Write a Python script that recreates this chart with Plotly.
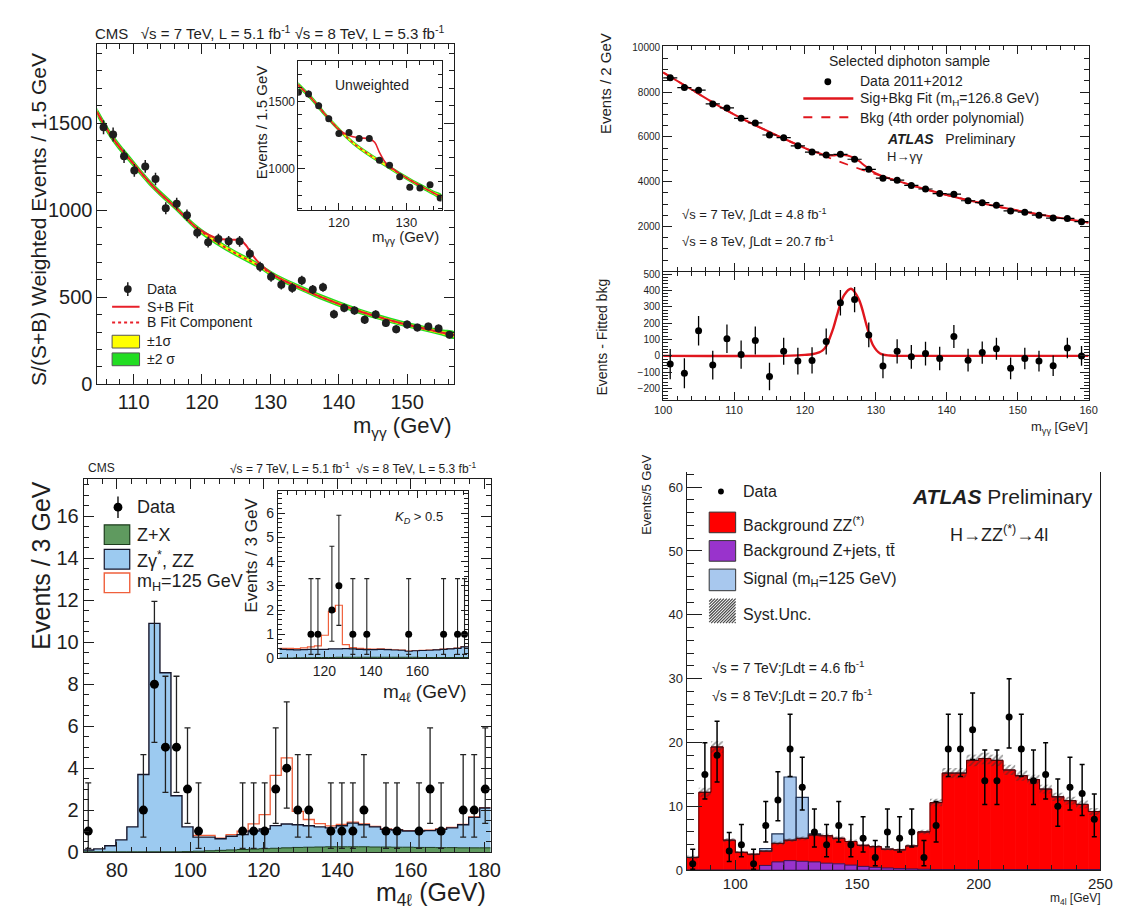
import numpy as np
import plotly.graph_objects as go

W, H = 1125, 913
FONT = "Liberation Sans, Arial, Helvetica, sans-serif"
INK = "#1e1e1e"

# ---------------- top-left: CMS diphoton, S/(S+B) weighted ----------------
tl_mass = [105.6, 107.0, 108.6, 110.1, 111.7, 113.2, 114.7, 116.3, 117.8, 119.3,
           120.9, 122.4, 123.9, 125.5, 127.0, 128.5, 130.1, 131.6, 133.2, 134.6,
           136.2, 137.7, 139.3, 140.8, 142.3, 143.8, 145.4, 146.9, 148.4, 150.0,
           151.5, 153.1, 154.6, 156.2]
tl_events = [1476, 1434, 1309, 1228, 1251, 1179, 1011, 1037, 971, 870,
             816, 834, 821, 821, 750, 675, 617, 572, 553, 596,
             544, 557, 403, 439, 424, 371, 401, 352, 317, 343,
             326, 332, 321, 285]
tl_err = [40, 40, 38, 37, 37, 36, 34, 34, 33, 32,
          31, 31, 31, 31, 30, 29, 28, 27, 27, 27,
          26, 26, 25, 25, 24, 24, 24, 23, 23, 23,
          22, 22, 22, 21]
tl_bkg_x = [104.6, 107, 110, 113, 116, 119, 122, 125, 128, 131, 134, 137, 140, 143, 146, 149, 152, 155, 157]
tl_bkg_y = [1565, 1410, 1265, 1130, 1020, 905, 820, 750, 688, 615, 560, 508, 462, 420, 385, 352, 325, 298, 282]
tl_band1 = [13, 11, 10, 9, 8, 8, 8, 8, 8, 8, 8, 8, 8, 8, 8, 8, 8, 9, 10]
tl_band2 = [26, 22, 20, 18, 17, 17, 17, 16, 16, 16, 16, 16, 16, 16, 16, 16, 16, 18, 20]
tl_sb_x = [104.6, 107, 110, 113, 116, 119, 120, 121, 122, 123, 124, 125, 125.8, 126.5, 127.2,
           128, 129, 131, 134, 137, 140, 143, 146, 149, 152, 155, 157]
tl_sb_y = [1565, 1410, 1265, 1130, 1020, 905, 880, 858, 840, 833, 830, 830, 822, 795, 752,
           712, 672, 615, 560, 508, 462, 420, 385, 352, 325, 298, 282]

# inset (unweighted)
tli_mass = [114.0, 115.5, 117.0, 118.5, 120.0, 121.5, 123.0, 124.5, 126.0, 127.5, 129.0, 130.5, 132.0, 133.5, 135.0]
tli_events = [1568, 1556, 1468, 1370, 1261, 1268, 1224, 1224, 1061, 1024, 939, 861, 854, 878, 780]
tli_err = [26, 26, 25, 24, 23, 23, 22, 22, 21, 21, 20, 19, 19, 19, 18]
tli_bkg_x = [113.8, 116, 118, 120, 122, 124, 126, 128, 130, 132, 134, 135.3]
tli_bkg_y = [1630, 1520, 1400, 1290, 1195, 1120, 1055, 992, 930, 872, 818, 785]
tli_band1 = [11, 10, 9, 9, 8, 8, 8, 8, 8, 8, 9, 10]
tli_band2 = [22, 20, 18, 17, 16, 16, 16, 16, 16, 17, 18, 20]
tli_sb_x = [113.8, 116, 118, 120, 121.5, 123, 124.5, 125.3, 126, 126.8, 127.5, 128.5, 130, 132, 134, 135.3]
tli_sb_y = [1630, 1520, 1400, 1290, 1245, 1228, 1222, 1195, 1120, 1050, 1015, 980, 930, 872, 818, 785]

# ---------------- top-right: ATLAS diphoton ----------------
tr_mass = [101, 103, 105, 107, 109, 111, 113, 115, 117, 119, 121, 123, 125, 127, 129,
           131, 133, 135, 137, 139, 141, 143, 145, 147, 149, 151, 153, 155, 157, 159]
tr_events = [8642, 8204, 8088, 7474, 7299, 6832, 6628, 6088, 5971, 5606, 5328, 5197, 5226, 5007, 4555,
             4161, 4073, 3839, 3679, 3474, 3445, 3153, 3066, 2949, 2701, 2642, 2511, 2380, 2365, 2219]
tr_err = [92, 91, 90, 88, 87, 86, 85, 84, 82, 81, 80, 79, 78, 77, 76,
          75, 74, 73, 72, 71, 70, 69, 68, 67, 66, 65, 64, 63, 62, 61]
tr_resid = [-50, -106, 154, -56, 104, 8, 94, -126, 28, -32, -28, 88, 324, 344, 128,
            -62, 28, -6, 14, -16, 118, -26, 20, 44, -76, -16, -32, -60, 48, 0]
tr_bkg_x = [100, 104, 108, 112, 116, 120, 124, 128, 132, 136, 140, 144, 148, 152, 156, 160]
tr_bkg_y = [8880, 8120, 7360, 6680, 6075, 5500, 5000, 4545, 4135, 3755, 3410, 3110, 2840, 2600, 2380, 2180]
tr_sig_x = [100, 117, 119, 120, 121, 122, 122.5, 123, 124, 124.6, 125.5, 126.5, 127.6, 128.7, 129.6, 130.6, 132, 134, 160]
tr_sig_y = [0, 0, 3, 6, 10, 22, 34, 60, 170, 260, 370, 410, 345, 185, 65, 15, 2, 0, 0]

# ---------------- bottom-left: CMS 4l ----------------
bl_centers = [72.25, 75.25, 78.25, 81.25, 84.25, 87.25, 90.25, 93.25, 96.25, 99.25,
              102.25, 105.25, 108.25, 111.25, 114.25, 117.25, 120.25, 123.25, 126.25, 129.25,
              132.25, 135.25, 138.25, 141.25, 144.25, 147.25, 150.25, 153.25, 156.25, 159.25,
              162.25, 165.25, 168.25, 171.25, 174.25, 177.25, 180.25]
bl_bkg_total = [0.1, 0.15, 0.3, 0.58, 1.2, 3.7, 10.9, 8.55, 2.68, 1.2,
                0.71, 0.71, 0.63, 0.75, 0.83, 1.0, 1.1, 1.26, 1.34, 1.3,
                1.25, 1.2, 1.15, 1.25, 1.38, 1.3, 1.2, 1.08, 1.05, 1.0,
                1.0, 1.02, 1.08, 1.15, 1.3, 1.65, 2.1]
bl_zx = [0.01, 0.01, 0.01, 0.01, 0.01, 0.01, 0.01, 0.01, 0.01, 0.02,
         0.04, 0.06, 0.08, 0.1, 0.12, 0.14, 0.16, 0.18, 0.2, 0.22,
         0.23, 0.24, 0.25, 0.25, 0.25, 0.25, 0.24, 0.24, 0.23, 0.23,
         0.22, 0.22, 0.21, 0.21, 0.2, 0.2, 0.2]
bl_sig = [0, 0, 0, 0, 0, 0, 0, 0, 0, 0,
          0.08, 0.08, 0.03, 0.08, 0.17, 0.34, 0.68, 2.39, 3.15, 0.64,
          0.3, 0.15, 0.1, 0.07, 0.05, 0.04, 0.02, 0.02, 0.02, 0.02,
          0.02, 0.02, 0.02, 0.02, 0.02, 0.02, 0.02]
bl_data_x = [72.25, 87.25, 90.25, 93.25, 96.25, 99.25, 102.25, 114.25, 117.25, 120.25, 123.25, 126.25, 129.25,
             132.25, 138.25, 141.25, 144.25, 147.25, 153.25, 156.25, 162.25, 165.25, 168.25, 174.25, 177.25, 180.25]
bl_data_y = [1, 2, 8, 5, 5, 3, 1, 1, 1, 1, 3, 4, 2, 2, 1, 1, 1, 2, 1, 1, 1, 3, 1, 2, 2, 3]
bl_err_lo = [0.83, 1.29, 2.77, 2.16, 2.16, 1.63, 0.83, 0.83, 0.83, 0.83, 1.63, 1.91, 1.29,
             1.29, 0.83, 0.83, 0.83, 1.29, 0.83, 0.83, 0.83, 1.63, 0.83, 1.29, 1.29, 1.63]
bl_err_hi = [2.30, 2.64, 3.95, 3.38, 3.38, 2.92, 2.30, 2.30, 2.30, 2.30, 2.92, 3.16, 2.64,
             2.64, 2.30, 2.30, 2.30, 2.64, 2.30, 2.30, 2.30, 2.92, 2.30, 2.64, 2.64, 2.92]

# inset (K_D > 0.5), bins from 100.75 GeV
bli_centers = bl_centers[10:]
bli_bkg_total = [0.38, 0.37, 0.36, 0.37, 0.38, 0.38, 0.38, 0.4, 0.4, 0.41, 0.4, 0.38, 0.37, 0.37,
                 0.38, 0.37, 0.35, 0.34, 0.3, 0.32, 0.33, 0.34, 0.36, 0.38, 0.4, 0.42, 0.48]
bli_zx = [0.02, 0.02, 0.03, 0.03, 0.03, 0.04, 0.04, 0.04, 0.05, 0.05, 0.05, 0.05, 0.05, 0.05,
          0.05, 0.05, 0.05, 0.05, 0.05, 0.05, 0.04, 0.04, 0.04, 0.04, 0.04, 0.04, 0.04]
bli_sig = [0.04, 0.05, 0.05, 0.07, 0.1, 0.14, 0.58, 1.55, 1.8, 0.16, 0.05, 0.04, 0.03, 0.02,
           0.02, 0.01, 0.01, 0.01, 0.01, 0.01, 0.01, 0.01, 0.01, 0.01, 0.01, 0.01, 0.01]
bli_data_x = [114.25, 117.25, 123.25, 126.25, 132.25, 138.25, 156.25, 171.25, 177.25, 180.25]
bli_data_y = [1, 1, 2, 3, 1, 1, 1, 1, 1, 1]
bli_err_lo = [0.83, 0.83, 1.29, 1.63, 0.83, 0.83, 0.83, 0.83, 0.83, 0.83]
bli_err_hi = [2.30, 2.30, 2.64, 2.92, 2.30, 2.30, 2.30, 2.30, 2.30, 2.30]

# ---------------- bottom-right: ATLAS 4l ----------------
br_centers = [82.5, 87.5, 92.5, 97.5, 102.5, 107.5, 112.5, 117.5, 122.5, 127.5,
              132.5, 137.5, 142.5, 147.5, 152.5, 157.5, 162.5, 167.5, 172.5, 177.5,
              182.5, 187.5, 192.5, 197.5, 202.5, 207.5, 212.5, 217.5, 222.5, 227.5,
              232.5, 237.5, 242.5, 247.5]
br_bkg_total = [2.0, 12.2, 19.3, 4.7, 2.8, 2.5, 3.0, 4.2, 4.7, 5.0,
                5.5, 5.4, 5.0, 4.5, 3.9, 3.7, 3.3, 3.2, 3.8, 6.0,
                10.6, 15.2, 15.2, 17.2, 17.5, 17.2, 15.7, 14.8, 14.2, 12.7,
                11.5, 10.9, 10.3, 9.2]
br_zjets = [0.02, 0.02, 0.02, 0.02, 0.02, 0.02, 0.75, 1.3, 1.5, 1.4,
            1.3, 1.1, 1.0, 0.8, 0.6, 0.45, 0.35, 0.25, 0.2, 0.15,
            0.1, 0.1, 0.1, 0.1, 0.1, 0.1, 0.1, 0.1, 0.1, 0.1,
            0.1, 0.1, 0.1, 0.1]
br_sig = [0, 0, 0, 0, 0, 0, 0.4, 1.5, 9.9, 6.4,
          0.2, 0, 0, 0, 0, 0, 0, 0, 0, 0,
          0, 0, 0, 0, 0, 0, 0, 0, 0, 0,
          0, 0, 0, 0]
br_unc = [0.3, 0.7, 0.9, 0.3, 0.2, 0.2, 0.2, 0.3, 0.3, 0.3,
          0.3, 0.3, 0.3, 0.3, 0.25, 0.25, 0.2, 0.2, 0.25, 0.35,
          0.6, 0.8, 0.8, 0.9, 0.9, 0.9, 0.8, 0.8, 0.75, 0.7,
          0.65, 0.6, 0.6, 0.55]
br_data = [1, 15, 18, 3, 4, 1, 7, 11, 19, 13, 6, 4, 7, 4, 5, 2, 6, 5, 6, 2,
           7, 19, 19, 22, 14, 14, 24, 19, 14, 15, 10, 13, 12, 8]
br_err_lo = [0.83, 3.83, 4.20, 1.63, 1.91, 0.83, 2.58, 3.27, 4.32, 3.56, 2.38, 1.91, 2.58, 1.91, 2.16, 1.29, 2.38,
             2.16, 2.38, 1.29, 2.58, 4.32, 4.32, 4.66, 3.70, 3.70, 4.87, 4.32, 3.70, 3.83, 3.11, 3.56, 3.42, 2.77]
br_err_hi = [2.30, 4.96, 5.32, 2.92, 3.16, 2.30, 3.77, 4.42, 5.44, 4.70, 3.58, 3.16, 3.77, 3.16, 3.38, 2.64, 3.58,
             3.38, 3.58, 2.64, 3.77, 5.44, 5.44, 5.76, 4.83, 4.83, 5.97, 5.44, 4.83, 4.96, 4.27, 4.70, 4.56, 3.95]

# ---------------- colours ----------------
CMS_RED = "#e8202a"
YELLOW = "#ffff00"
GREEN = "#22dd22"
ATL_RED = "#e0161d"
ZX_GREEN = "#5f9a5f"
ZZ_BLUE = "#9ccaf0"
SIG_OUT = "#f0603c"
BR_RED = "#ff0000"
BR_PURPLE = "#9933cc"
BR_BLUE = "#a8c8ee"


def px(x):
    return x / W


def py(y):
    return 1 - y / H


def edges(centers, width):
    return [c - width / 2 for c in centers] + [centers[-1] + width / 2]


def stepy(vals):
    return list(vals) + [vals[-1]]


fig = go.Figure()
NOHOVER = dict(hoverinfo="skip", showlegend=False)

# ===== top-left main =====
for band, col in ((tl_band2, GREEN), (tl_band1, YELLOW)):
    fig.add_trace(go.Scatter(
        x=tl_bkg_x + tl_bkg_x[::-1],
        y=[b + w for b, w in zip(tl_bkg_y, band)] + [b - w for b, w in zip(tl_bkg_y, band)][::-1],
        fill="toself", fillcolor=col, line=dict(width=0, shape="spline"), mode="lines",
        xaxis="x", yaxis="y", **NOHOVER))
fig.add_trace(go.Scatter(x=tl_bkg_x, y=tl_bkg_y, mode="lines",
                         line=dict(color=CMS_RED, width=2, dash="dot", shape="spline"),
                         xaxis="x", yaxis="y", **NOHOVER))
fig.add_trace(go.Scatter(x=tl_sb_x, y=tl_sb_y, mode="lines",
                         line=dict(color=CMS_RED, width=2, shape="spline"),
                         xaxis="x", yaxis="y", **NOHOVER))
fig.add_trace(go.Scatter(x=tl_mass, y=tl_events, mode="markers",
                         marker=dict(color=INK, size=8),
                         error_y=dict(type="data", array=tl_err, color=INK, thickness=1.5, width=0),
                         xaxis="x", yaxis="y", **NOHOVER))

# ===== top-left inset =====
for band, col in ((tli_band2, GREEN), (tli_band1, YELLOW)):
    fig.add_trace(go.Scatter(
        x=tli_bkg_x + tli_bkg_x[::-1],
        y=[b + w for b, w in zip(tli_bkg_y, band)] + [b - w for b, w in zip(tli_bkg_y, band)][::-1],
        fill="toself", fillcolor=col, line=dict(width=0, shape="spline"), mode="lines",
        xaxis="x2", yaxis="y2", **NOHOVER))
fig.add_trace(go.Scatter(x=tli_bkg_x, y=tli_bkg_y, mode="lines",
                         line=dict(color=CMS_RED, width=1.6, dash="dot", shape="spline"),
                         xaxis="x2", yaxis="y2", **NOHOVER))
fig.add_trace(go.Scatter(x=tli_sb_x, y=tli_sb_y, mode="lines",
                         line=dict(color=CMS_RED, width=1.6, shape="spline"),
                         xaxis="x2", yaxis="y2", **NOHOVER))
fig.add_trace(go.Scatter(x=tli_mass, y=tli_events, mode="markers",
                         marker=dict(color=INK, size=7),
                         error_y=dict(type="data", array=tli_err, color=INK, thickness=1.2, width=0),
                         xaxis="x2", yaxis="y2", **NOHOVER))

# ===== top-right main =====
sb_x = sorted(set(tr_bkg_x + tr_sig_x))
sb_y = list(np.interp(sb_x, tr_bkg_x, tr_bkg_y) + np.interp(sb_x, tr_sig_x, tr_sig_y))
fig.add_trace(go.Scatter(x=tr_bkg_x, y=tr_bkg_y, mode="lines",
                         line=dict(color=ATL_RED, width=1.8, dash="dash", shape="spline"),
                         xaxis="x3", yaxis="y3", **NOHOVER))
fig.add_trace(go.Scatter(x=sb_x, y=sb_y, mode="lines",
                         line=dict(color=ATL_RED, width=2, shape="spline"),
                         xaxis="x3", yaxis="y3", **NOHOVER))
fig.add_trace(go.Scatter(x=tr_mass, y=tr_events, mode="markers",
                         marker=dict(color="black", size=7),
                         error_x=dict(type="constant", value=1, color="black", thickness=1.2, width=0),
                         error_y=dict(type="data", array=tr_err, color="black", thickness=1.2, width=0),
                         xaxis="x3", yaxis="y3", **NOHOVER))

# ===== top-right residual panel =====
fig.add_trace(go.Scatter(x=tr_sig_x, y=tr_sig_y, mode="lines",
                         line=dict(color=ATL_RED, width=2.4, shape="spline"),
                         xaxis="x4", yaxis="y4", **NOHOVER))
fig.add_trace(go.Scatter(x=tr_mass, y=tr_resid, mode="markers",
                         marker=dict(color="black", size=7),
                         error_y=dict(type="data", array=tr_err, color="black", thickness=1.3, width=0),
                         xaxis="x4", yaxis="y4", **NOHOVER))

# ===== bottom-left main =====
bl_e = edges(bl_centers, 3)
bl_sb = [b + s for b, s in zip(bl_bkg_total, bl_sig)]
fig.add_trace(go.Scatter(x=bl_e[10:], y=stepy(bl_sb[10:]), mode="lines",
                         line=dict(color=SIG_OUT, width=1.3, shape="hv"),
                         xaxis="x5", yaxis="y5", **NOHOVER))
fig.add_trace(go.Scatter(x=bl_e, y=stepy(bl_bkg_total), mode="lines", fill="tozeroy",
                         fillcolor=ZZ_BLUE, line=dict(color="#15152a", width=1.4, shape="hv"),
                         xaxis="x5", yaxis="y5", **NOHOVER))
fig.add_trace(go.Scatter(x=bl_e, y=stepy(bl_zx), mode="lines", fill="tozeroy",
                         fillcolor=ZX_GREEN, line=dict(color="#1d3d1d", width=1, shape="hv"),
                         xaxis="x5", yaxis="y5", **NOHOVER))
fig.add_trace(go.Scatter(x=bl_data_x, y=bl_data_y, mode="markers",
                         marker=dict(color="black", size=9),
                         error_y=dict(type="data", symmetric=False, array=bl_err_hi, arrayminus=bl_err_lo,
                                      color="#222", thickness=1.3, width=3),
                         xaxis="x5", yaxis="y5", **NOHOVER))

# ===== bottom-left inset =====
bli_e = edges(bli_centers, 3)
bli_sb = [b + s for b, s in zip(bli_bkg_total, bli_sig)]
fig.add_trace(go.Scatter(x=bli_e, y=stepy(bli_sb), mode="lines",
                         line=dict(color=SIG_OUT, width=1.2, shape="hv"),
                         xaxis="x6", yaxis="y6", **NOHOVER))
fig.add_trace(go.Scatter(x=bli_e, y=stepy(bli_bkg_total), mode="lines", fill="tozeroy",
                         fillcolor=ZZ_BLUE, line=dict(color="#15152a", width=1.2, shape="hv"),
                         xaxis="x6", yaxis="y6", **NOHOVER))
fig.add_trace(go.Scatter(x=bli_e, y=stepy(bli_zx), mode="lines", fill="tozeroy",
                         fillcolor=ZX_GREEN, line=dict(color="#1d3d1d", width=1, shape="hv"),
                         xaxis="x6", yaxis="y6", **NOHOVER))
fig.add_trace(go.Scatter(x=bli_data_x, y=bli_data_y, mode="markers",
                         marker=dict(color="black", size=7),
                         error_y=dict(type="data", symmetric=False, array=bli_err_hi, arrayminus=bli_err_lo,
                                      color="#222", thickness=1.1, width=2.5),
                         xaxis="x6", yaxis="y6", **NOHOVER))

# ===== bottom-right =====
br_zz = [t - z for t, z in zip(br_bkg_total, br_zjets)]
fig.add_trace(go.Bar(x=br_centers, y=br_zz, base=br_zjets, width=5, marker=dict(color=BR_RED,
                     line=dict(color=BR_RED, width=0.8)), xaxis="x7", yaxis="y7", **NOHOVER))
fig.add_trace(go.Bar(x=br_centers, y=br_zjets, base=0, width=5, marker=dict(color=BR_PURPLE,
                     line=dict(color="#3c1450", width=1)), xaxis="x7", yaxis="y7", **NOHOVER))
fig.add_trace(go.Bar(x=br_centers, y=br_sig, base=br_bkg_total, width=5, marker=dict(color=BR_BLUE,
                     line=dict(color="#1f3050", width=1.2)), xaxis="x7", yaxis="y7", **NOHOVER))
br_e = edges(br_centers, 5)
fig.add_trace(go.Scatter(x=br_e, y=stepy(br_bkg_total), mode="lines",
                         line=dict(color="#5a0000", width=1, shape="hv"),
                         xaxis="x7", yaxis="y7", **NOHOVER))
fig.add_trace(go.Bar(x=br_centers, y=[2 * u for u in br_unc],
                     base=[t - u for t, u in zip(br_bkg_total, br_unc)], width=5,
                     marker=dict(color="rgba(0,0,0,0)", line=dict(width=0),
                                 pattern=dict(shape="/", fgcolor="#333333", bgcolor="rgba(0,0,0,0)",
                                              size=4, solidity=0.45, fillmode="overlay")),
                     xaxis="x7", yaxis="y7", **NOHOVER))
fig.add_trace(go.Scatter(x=br_centers, y=br_data, mode="markers",
                         marker=dict(color="black", size=7),
                         error_y=dict(type="data", symmetric=False, array=br_err_hi, arrayminus=br_err_lo,
                                      color="black", thickness=1.5, width=2.5),
                         xaxis="x7", yaxis="y7", **NOHOVER))


# ---------------- axes ----------------
def axis(dom, rng, tickvals, size, tlen, mdtick, mlen, anchor, mirror="allticks", labels=True, m0=0):
    return dict(domain=dom, range=rng, anchor=anchor, showline=True, linecolor=INK, linewidth=1,
                mirror=mirror, ticks="inside", ticklen=tlen, tickwidth=1, tickcolor=INK,
                tickmode="array", tickvals=tickvals, showticklabels=labels, tickformat="d",
                exponentformat="none",
                tickfont=dict(family=FONT, size=size, color=INK), showgrid=False, zeroline=False,
                minor=dict(ticks="inside", ticklen=mlen, tickmode="linear", tick0=m0, dtick=mdtick,
                           tickcolor=INK, tickwidth=1, showgrid=False))


layout_axes = dict(
    xaxis=axis([px(82), px(446)], [104.7, 156.9], [110, 120, 130, 140, 150], 20, 10, 2, 5, "y"),
    yaxis=axis([py(378), py(32)], [0, 1951], [0, 500, 1000, 1500], 20, 10, 100, 5, "x"),
    xaxis2=axis([px(287), px(433)], [114.0, 135.2], [120, 130], 13, 7, 2, 4, "y2"),
    yaxis2=axis([py(201), py(49)], [687, 1800], [1000, 1500], 12, 7, 100, 4, "x2"),
    xaxis3=axis([px(659), px(1093)], [100, 160], [100, 110, 120, 130, 140, 150, 160], 11, 8, 2, 4, "y3", labels=False),
    yaxis3=axis([py(263), py(34)], [0, 10044], [2000, 4000, 6000, 8000, 10000], 10, 9, 500, 5, "x3"),
    xaxis4=axis([px(659), px(1093)], [100, 160], [100, 110, 120, 130, 140, 150, 160], 11, 8, 2, 4, "y4"),
    yaxis4=axis([py(394), py(264)], [-270, 510], [-200, -100, 0, 100, 200, 300, 400, 500], 10, 9, 20, 5, "x4"),
    xaxis5=axis([px(68), px(483)], [71.0, 181.7], [80, 100, 120, 140, 160, 180], 20, 10, 4, 5, "y5"),
    yaxis5=axis([py(854), py(474)], [0, 17.8], [0, 2, 4, 6, 8, 10, 12, 14, 16], 20, 10, 0.5, 5, "x5"),
    xaxis6=axis([px(266), px(460)], [100.0, 181.75], [120, 140, 160], 14, 7, 4, 4, "y6"),
    yaxis6=axis([py(657), py(487)], [0, 6.9], [0, 1, 2, 3, 4, 5, 6], 14, 7, 0.2, 4, "x6"),
    xaxis7=axis([px(683), px(1105)], [80, 250], [100, 150, 200, 250], 15, 10, 10, 5, "y7", mirror=False),
    yaxis7=axis([py(872.5), py(467)], [0, 62.4], [0, 10, 20, 30, 40, 50, 60], 13, 15, 2, 7, "x7", mirror=True),
)

annotations = []
shapes = []


def txt(x, y, s, size, anchor="left", yanchor="middle", angle=0, color=INK):
    annotations.append(dict(x=px(x), y=py(y), xref="paper", yref="paper", text=s, showarrow=False,
                            xanchor=anchor, yanchor=yanchor, textangle=angle,
                            font=dict(family=FONT, size=size, color=color)))


def line(x0, y0, x1, y1, color=INK, width=1, dash="solid"):
    shapes.append(dict(type="line", xref="paper", yref="paper", x0=px(x0), y0=py(y0), x1=px(x1), y1=py(y1),
                       line=dict(color=color, width=width, dash=dash)))


def rect(x0, y0, x1, y1, fill, color=INK, width=1):
    shapes.append(dict(type="rect", xref="paper", yref="paper", x0=px(x0), y0=py(y0), x1=px(x1), y1=py(y1),
                       fillcolor=fill, line=dict(color=color, width=width)))


def dot(cx, cy, r, color="black"):
    shapes.append(dict(type="circle", xref="paper", yref="paper", x0=px(cx - r), y0=py(cy + r),
                       x1=px(cx + r), y1=py(cy - r), fillcolor=color, line=dict(color=color, width=0)))


# ---- top-left texts & legend ----
txt(78, 20, "CMS   √s = 7 TeV, L = 5.1 fb<sup>-1</sup> √s = 8 TeV, L = 5.3 fb<sup>-1</sup>", 15)
txt(22, 210, "S/(S+B) Weighted Events / 1.5 GeV", 21, anchor="center", angle=-90)
txt(446, 421, "m<sub>γγ</sub> (GeV)", 22, anchor="right")
txt(362, 73, "Unweighted", 14, anchor="center")
txt(249, 112, "Events / 1.5 GeV", 15, anchor="center", angle=-90)
txt(432, 229, "m<sub>γγ</sub> (GeV)", 15, anchor="right")
line(113, 274, 113, 288, INK, 1.5)
dot(113, 281, 4, INK)
txt(131, 281, "Data", 14)
line(97, 299, 125, 299, CMS_RED, 2)
txt(131, 299, "S+B Fit", 14)
line(97, 315, 125, 315, CMS_RED, 2, "dot")
txt(131, 315, "B Fit Component", 14)
rect(97, 328, 125, 341, YELLOW, "#555", 1)
txt(131, 334, "±1σ", 14)
rect(97, 346, 125, 359, GREEN, "#555", 1)
txt(131, 352, "±2 σ", 14)

# ---- top-right texts & legend ----
txt(600, 72, "Events / 2 GeV", 15, anchor="center", angle=-90)
txt(597, 330, "Events - Fitted bkg", 14, anchor="center", angle=-90)
txt(1094, 422, "m<sub>γγ</sub> [GeV]", 13, anchor="right")
txt(910, 49, "Selected diphoton sample", 14, anchor="center")
dot(827, 70, 3.5, "black")
txt(858, 69, "Data 2011+2012", 14)
line(802, 87, 853, 87, ATL_RED, 2.5)
txt(858, 88, "Sig+Bkg Fit (m<sub>H</sub>=126.8 GeV)", 14)
line(802, 106, 853, 106, ATL_RED, 2, "dash")
txt(858, 107, "Bkg (4th order polynomial)", 14)
txt(885, 128, "<b><i>ATLAS</i></b>   Preliminary", 14)
txt(885, 146, "H→γγ", 13)
txt(676, 205, "√s = 7 TeV, ∫Ldt = 4.8 fb<sup>-1</sup>", 13)
txt(676, 232, "√s = 8 TeV, ∫Ldt = 20.7 fb<sup>-1</sup>", 13)

# ---- bottom-left texts & legend ----
txt(70, 463, "CMS", 12)
txt(470, 463, "√s = 7 TeV, L = 5.1 fb<sup>-1</sup>  √s = 8 TeV, L = 5.3 fb<sup>-1</sup>", 12, anchor="right")
txt(25, 563, "Events / 3 GeV", 25, anchor="center", angle=-90)
txt(480, 897, "m<sub>4ℓ</sub> (GeV)", 25, anchor="right")
txt(239, 552, "Events / 3 GeV", 17, anchor="center", angle=-90)
txt(460, 692, "m<sub>4ℓ</sub> (GeV)", 19, anchor="right")
txt(410, 513, "<i>K<sub>D</sub></i> > 0.5", 13, anchor="center")
line(103, 492, 103, 514, INK, 1.5)
dot(103, 503, 4.5, "black")
txt(120, 503, "Data", 18)
rect(89, 521, 115, 541, ZX_GREEN, "#1d3d1d", 1.2)
txt(120, 531, "Z+X", 18)
rect(89, 546, 115, 566, ZZ_BLUE, "#15152a", 1.2)
txt(120, 556, "Zγ<sup>*</sup>, ZZ", 18)
rect(89, 570, 115, 590, "white", SIG_OUT, 1.4)
txt(120, 580, "m<sub>H</sub>=125 GeV", 18)

# ---- bottom-right texts & legend ----
txt(642, 490, "Events/5 GeV", 13, anchor="center", angle=-90)
txt(1108, 902, "m<sub>4l</sub> [GeV]", 12, anchor="right")
dot(718, 487, 3, "black")
txt(738, 487, "Data", 16)
rect(706, 508, 733, 529, BR_RED, "#333", 1)
txt(738, 520, "Background ZZ<sup>(*)</sup>", 16)
rect(706, 537, 733, 558, BR_PURPLE, "#333", 1)
txt(738, 547, "Background Z+jets, tt̄", 16)
rect(706, 566, 733, 588, BR_BLUE, "#333", 1)
txt(738, 577, "Signal (m<sub>H</sub>=125 GeV)", 16)
hx0, hy0, hx1, hy1 = 706, 596, 733, 621
hh = hy1 - hy0
s = hx0 - hh
while s < hx1:
    t0 = max(0, hx0 - s)
    t1 = min(hh, hx1 - s)
    if t1 > t0:
        line(s + t0, hy1 - t0, s + t1, hy1 - t1, "#444", 1.2)
    s += 3
txt(738, 612, "Syst.Unc.", 16)
txt(1100, 492, "<b><i>ATLAS</i></b> Preliminary", 21, anchor="right")
txt(1002, 530, "H→ZZ<sup>(*)</sup>→4l", 18, anchor="center")
txt(707, 666, "√s = 7 TeV:∫Ldt = 4.6 fb<sup>-1</sup>", 14)
txt(707, 694, "√s = 8 TeV:∫Ldt = 20.7 fb<sup>-1</sup>", 14)

fig.update_layout(
    width=W, height=H, autosize=False,
    margin=dict(l=0, r=0, t=0, b=0, pad=0),
    paper_bgcolor="white", plot_bgcolor="white",
    barmode="overlay", showlegend=False,
    font=dict(family=FONT, color=INK),
    annotations=annotations, shapes=shapes,
    **layout_axes,
)

fig.write_html("out.html")
